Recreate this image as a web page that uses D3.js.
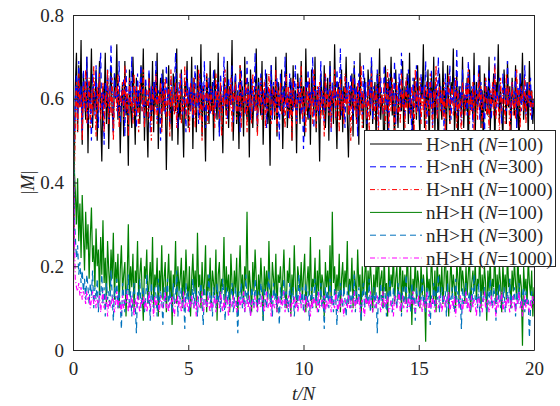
<!DOCTYPE html>
<html>
<head>
<meta charset="utf-8">
<script src="https://cdn.jsdelivr.net/npm/d3@7"></script>
<style>
  body { margin: 0; background: #fff; }
  text { font-family: "Liberation Serif", "Times New Roman", serif; fill: #262626; }
</style>
</head>
<body>
<svg id="chart" width="560" height="406"></svg>
<script>
// |M| readings, one value every 0.05 t/N from 0 to 20
const hnh100 = [
  .02,.41,.63,.71,.52,.68,.58,.74,.49,.66,.61,.55,.70,.47,.64,.59,.72,.53,.62,.57,
  .67,.50,.60,.69,.56,.45,.63,.58,.71,.54,.65,.48,.61,.68,.57,.52,.66,.60,.73,.55,
  .62,.47,.59,.64,.51,.69,.56,.61,.44,.67,.58,.53,.70,.60,.49,.65,.57,.62,.54,.68,
  .59,.72,.50,.63,.56,.46,.66,.61,.55,.69,.52,.64,.58,.71,.48,.60,.65,.53,.67,.57,
  .62,.43,.59,.68,.54,.61,.50,.66,.63,.57,.72,.49,.60,.55,.67,.58,.46,.64,.61,.69,
  .53,.62,.57,.70,.48,.65,.59,.52,.68,.60,.56,.73,.51,.63,.58,.45,.66,.61,.54,.69,
  .57,.64,.50,.67,.60,.55,.71,.52,.62,.58,.47,.65,.61,.56,.69,.53,.63,.59,.74,.50,
  .60,.66,.54,.62,.48,.68,.57,.63,.51,.70,.59,.55,.64,.46,.67,.60,.53,.61,.58,.72,
  .52,.65,.59,.56,.69,.49,.62,.58,.66,.54,.61,.44,.68,.57,.63,.55,.70,.51,.64,.60,
  .57,.67,.48,.63,.59,.71,.53,.61,.56,.65,.50,.68,.58,.62,.47,.66,.60,.54,.69,.57,
  .63,.51,.72,.58,.55,.64,.49,.67,.60,.57,.70,.52,.62,.59,.45,.66,.61,.56,.68,.53,
  .60,.65,.50,.69,.57,.62,.54,.73,.58,.48,.64,.61,.55,.67,.52,.63,.59,.70,.56,.46,
  .62,.58,.66,.51,.68,.60,.55,.63,.49,.71,.57,.61,.53,.65,.59,.47,.67,.62,.56,.69,
  .54,.60,.64,.50,.66,.58,.72,.55,.61,.57,.44,.68,.63,.52,.65,.59,.70,.56,.62,.48,
  .67,.59,.53,.64,.61,.57,.69,.50,.63,.58,.66,.54,.71,.56,.60,.47,.65,.62,.55,.68,
  .58,.51,.64,.60,.73,.53,.62,.57,.67,.49,.61,.65,.56,.70,.52,.63,.59,.46,.66,.60,
  .55,.69,.57,.62,.50,.68,.59,.54,.64,.61,.72,.52,.58,.66,.48,.63,.60,.56,.70,.53,
  .61,.57,.65,.45,.67,.59,.62,.55,.71,.51,.64,.58,.60,.68,.53,.62,.49,.66,.57,.63,
  .56,.70,.52,.61,.59,.66,.48,.64,.60,.73,.55,.62,.57,.50,.67,.61,.54,.69,.58,.63,
  .51,.65,.60,.56,.68,.53,.62,.47,.66,.59,.71,.55,.61,.57,.64,.50,.69,.58,.62,.54,
  .60
];
const hnh300 = [
  .02,.47,.60,.66,.55,.69,.58,.63,.52,.67,.61,.57,.70,.54,.64,.59,.50,.66,.62,.56,
  .68,.60,.53,.65,.71,.57,.62,.49,.64,.59,.67,.55,.61,.73,.58,.52,.66,.60,.63,.56,
  .69,.54,.62,.58,.65,.51,.67,.60,.56,.64,.59,.70,.55,.61,.63,.53,.66,.58,.62,.68,
  .57,.60,.54,.65,.61,.59,.67,.52,.63,.57,.64,.60,.69,.55,.62,.58,.50,.66,.61,.64,
  .56,.68,.59,.62,.54,.65,.60,.57,.63,.71,.58,.53,.64,.61,.66,.56,.60,.62,.52,.67,
  .59,.63,.57,.65,.55,.61,.68,.58,.62,.54,.66,.60,.64,.57,.69,.53,.61,.59,.65,.56,
  .63,.60,.67,.55,.62,.58,.64,.51,.66,.61,.57,.70,.59,.63,.55,.65,.60,.58,.68,.54,
  .62,.66,.57,.61,.64,.52,.67,.60,.59,.63,.56,.69,.58,.62,.55,.65,.61,.57,.71,.59,
  .54,.64,.60,.66,.56,.62,.58,.67,.53,.63,.61,.59,.68,.55,.64,.60,.57,.65,.62,.50,
  .66,.59,.63,.56,.70,.58,.61,.55,.66,.60,.64,.57,.62,.68,.54,.63,.59,.65,.56,.61,
  .48,.58,.64,.61,.67,.55,.62,.59,.70,.53,.65,.60,.57,.63,.56,.69,.58,.61,.54,.66,
  .60,.62,.57,.68,.52,.64,.59,.63,.55,.67,.61,.58,.72,.56,.62,.60,.53,.65,.59,.64,
  .57,.66,.61,.55,.69,.58,.63,.51,.66,.60,.62,.56,.68,.59,.64,.54,.61,.65,.57,.70,
  .55,.63,.60,.58,.67,.53,.62,.65,.59,.56,.68,.61,.57,.64,.52,.66,.60,.63,.58,.69,
  .54,.62,.59,.66,.57,.71,.58,.60,.55,.64,.61,.67,.56,.63,.49,.65,.60,.58,.68,.57,
  .62,.55,.66,.60,.63,.57,.69,.54,.61,.64,.58,.67,.53,.62,.60,.65,.56,.70,.59,.63,
  .57,.61,.52,.66,.60,.64,.58,.68,.55,.62,.59,.65,.57,.72,.56,.61,.63,.54,.67,.60,
  .58,.64,.56,.69,.61,.57,.63,.53,.66,.60,.62,.58,.68,.55,.64,.59,.61,.50,.65,.62,
  .57,.67,.60,.55,.63,.59,.70,.56,.62,.58,.65,.61,.54,.66,.60,.63,.57,.69,.59,.62,
  .55,.64,.61,.58,.67,.53,.63,.60,.66,.57,.62,.59,.68,.56,.64,.61,.58,.65,.55,.60,
  .58
];
const hnh1000 = [
  .03,.38,.55,.64,.52,.66,.58,.61,.50,.63,.57,.67,.54,.60,.65,.53,.62,.56,.68,.59,
  .51,.63,.57,.66,.55,.60,.64,.52,.61,.58,.67,.54,.62,.56,.65,.50,.60,.63,.57,.66,
  .53,.61,.59,.64,.55,.68,.57,.62,.51,.65,.58,.60,.54,.66,.56,.63,.59,.52,.64,.61,
  .57,.67,.53,.60,.62,.55,.65,.58,.50,.63,.60,.56,.66,.54,.61,.59,.64,.52,.62,.57,
  .65,.55,.60,.63,.51,.67,.58,.61,.56,.64,.53,.62,.59,.66,.54,.60,.57,.68,.55,.62,
  .58,.52,.64,.60,.56,.65,.53,.61,.59,.67,.55,.62,.50,.63,.58,.60,.66,.54,.61,.57,
  .63,.56,.60,.53,.66,.59,.62,.55,.64,.51,.61,.58,.67,.54,.60,.63,.57,.65,.52,.62,
  .59,.64,.55,.61,.57,.68,.53,.62,.60,.56,.65,.52,.63,.58,.61,.54,.66,.59,.57,.63,
  .51,.62,.58,.65,.55,.60,.64,.53,.61,.57,.66,.59,.54,.63,.60,.56,.67,.52,.62,.58,
  .64,.56,.61,.59,.53,.66,.57,.63,.55,.62,.50,.65,.58,.60,.54,.64,.61,.57,.68,.55,
  .60,.63,.52,.62,.58,.65,.56,.61,.54,.67,.59,.53,.63,.57,.64,.55,.60,.62,.51,.66,
  .58,.61,.56,.64,.53,.62,.59,.67,.55,.60,.63,.52,.65,.57,.61,.54,.66,.58,.62,.56,
  .63,.50,.60,.65,.57,.61,.54,.64,.59,.56,.68,.53,.62,.58,.60,.55,.64,.52,.61,.66,
  .57,.62,.55,.63,.59,.52,.66,.58,.61,.56,.64,.54,.60,.67,.53,.62,.57,.65,.59,.51,
  .61,.64,.56,.60,.54,.66,.58,.62,.53,.65,.57,.61,.59,.55,.63,.60,.52,.67,.56,.62,
  .58,.65,.54,.61,.57,.63,.51,.64,.60,.56,.66,.59,.53,.62,.58,.68,.55,.60,.63,.57,
  .62,.55,.64,.52,.60,.58,.66,.54,.61,.63,.56,.59,.65,.53,.62,.57,.60,.50,.64,.61,
  .56,.63,.59,.67,.54,.61,.57,.64,.52,.62,.60,.55,.66,.58,.63,.53,.61,.59,.65,.56,
  .60,.53,.62,.58,.64,.56,.68,.55,.61,.59,.52,.65,.57,.62,.60,.54,.66,.58,.63,.51,
  .59,.64,.56,.61,.55,.67,.58,.62,.53,.63,.60,.57,.65,.54,.61,.59,.64,.56,.62,.58,
  .60
];
const nhh100 = [
  .60,.44,.38,.30,.41,.26,.35,.22,.37,.28,.19,.33,.24,.30,.17,.27,.34,.21,.25,.15,
  .29,.20,.24,.13,.27,.18,.31,.16,.22,.11,.26,.19,.14,.24,.17,.28,.12,.21,.16,.23,
  .10,.19,.25,.14,.18,.21,.08,.17,.30,.13,.20,.15,.23,.09,.19,.16,.26,.12,.18,.22,
  .14,.07,.20,.17,.24,.11,.16,.21,.13,.27,.10,.18,.15,.22,.08,.19,.14,.25,.12,.17,
  .21,.09,.16,.23,.13,.19,.06,.18,.15,.26,.11,.20,.14,.17,.22,.10,.19,.13,.24,.16,
  .12,.20,.08,.17,.23,.14,.19,.11,.28,.15,.18,.10,.21,.13,.16,.25,.09,.18,.14,.22,
  .11,.19,.16,.13,.24,.07,.18,.21,.12,.17,.15,.27,.10,.20,.14,.18,.09,.23,.16,.12,
  .19,.14,.22,.08,.17,.25,.13,.18,.11,.20,.16,.33,.12,.19,.15,.09,.21,.14,.24,.17,
  .10,.18,.13,.22,.16,.07,.20,.14,.19,.12,.26,.15,.11,.21,.17,.13,.23,.09,.18,.16,
  .20,.12,.17,.24,.14,.10,.19,.16,.22,.08,.18,.13,.25,.15,.11,.20,.17,.14,.21,.12,
  .18,.23,.09,.16,.20,.13,.27,.11,.17,.15,.22,.10,.19,.14,.24,.12,.18,.16,.08,.21,
  .15,.19,.13,.25,.11,.33,.16,.20,.12,.18,.14,.23,.09,.17,.21,.13,.19,.15,.26,.11,
  .17,.14,.22,.10,.19,.16,.12,.24,.15,.18,.07,.20,.13,.17,.23,.11,.19,.14,.21,.16,
  .09,.18,.13,.20,.15,.26,.12,.17,.19,.10,.22,.14,.16,.08,.21,.13,.18,.15,.24,.11,
  .17,.20,.12,.16,.23,.09,.19,.14,.18,.11,.25,.15,.13,.20,.06,.17,.14,.22,.12,.19,
  .16,.10,.21,.13,.18,.15,.02,.20,.14,.17,.11,.24,.16,.12,.19,.09,.22,.15,.18,.13,
  .20,.11,.17,.25,.14,.19,.08,.16,.22,.13,.18,.15,.10,.21,.17,.12,.26,.14,.19,.16,
  .11,.20,.13,.18,.23,.09,.16,.19,.14,.21,.12,.17,.15,.24,.10,.18,.13,.20,.16,.07,
  .19,.14,.22,.12,.17,.15,.25,.11,.18,.13,.20,.16,.09,.21,.14,.18,.12,.23,.15,.17,
  .10,.19,.14,.21,.16,.12,.24,.13,.18,.15,.01,.20,.14,.17,.11,.22,.16,.13,.19,.08,
  .15
];
const nhh300 = [
  .60,.33,.27,.22,.25,.18,.21,.16,.19,.14,.17,.12,.18,.15,.11,.16,.13,.19,.10,.15,
  .12,.17,.09,.14,.13,.18,.11,.15,.08,.16,.12,.14,.10,.19,.13,.07,.15,.12,.17,.10,
  .14,.11,.05,.16,.13,.09,.15,.12,.18,.10,.14,.08,.13,.16,.11,.04,.14,.12,.17,.10,
  .13,.15,.09,.12,.18,.11,.14,.07,.16,.12,.10,.15,.13,.08,.17,.11,.14,.12,.06,.15,
  .11,.13,.17,.10,.14,.12,.09,.16,.11,.13,.19,.08,.14,.12,.15,.10,.13,.05,.16,.12,
  .14,.09,.13,.11,.17,.10,.15,.12,.08,.14,.13,.16,.11,.06,.15,.12,.10,.14,.18,.11,
  .13,.08,.15,.12,.10,.16,.11,.14,.09,.13,.17,.12,.07,.15,.11,.14,.10,.13,.16,.09,
  .12,.15,.11,.04,.14,.12,.16,.10,.13,.09,.18,.11,.14,.12,.08,.15,.13,.10,.17,.12,
  .09,.14,.11,.16,.13,.07,.15,.12,.10,.14,.19,.11,.13,.08,.16,.12,.14,.10,.13,.06,
  .15,.11,.13,.17,.10,.14,.12,.09,.16,.11,.13,.15,.08,.12,.14,.10,.18,.12,.11,.15,
  .09,.13,.16,.11,.14,.07,.12,.15,.10,.13,.17,.11,.14,.09,.12,.16,.10,.13,.05,.15,
  .12,.14,.10,.17,.11,.13,.09,.15,.12,.06,.14,.11,.16,.13,.10,.15,.12,.08,.14,.11,
  .16,.10,.13,.12,.18,.09,.14,.11,.15,.12,.07,.13,.16,.10,.14,.12,.11,.17,.09,.13,
  .12,.15,.10,.14,.04,.13,.11,.16,.12,.10,.15,.13,.08,.14,.12,.17,.11,.09,.15,.12,
  .13,.10,.16,.12,.14,.08,.15,.11,.13,.18,.10,.12,.14,.09,.16,.11,.13,.07,.15,.12,
  .10,.14,.12,.17,.11,.13,.09,.15,.12,.14,.06,.13,.11,.16,.10,.14,.12,.18,.09,.13,
  .15,.11,.12,.14,.08,.16,.10,.13,.12,.15,.11,.09,.17,.12,.14,.10,.13,.05,.15,.11,
  .13,.16,.10,.12,.14,.09,.15,.11,.18,.12,.13,.10,.16,.08,.14,.12,.11,.15,.13,.09,
  .14,.11,.17,.12,.10,.15,.13,.07,.14,.12,.16,.10,.13,.11,.15,.09,.12,.14,.11,.17,
  .10,.13,.12,.15,.08,.14,.11,.16,.12,.10,.13,.15,.09,.14,.11,.12,.03,.10,.14,.12,
  .11
];
const nhh1000 = [
  .60,.30,.17,.15,.14,.16,.13,.15,.12,.14,.13,.11,.14,.12,.13,.10,.12,.14,.11,.13,
  .10,.12,.11,.13,.09,.12,.14,.10,.11,.13,.08,.12,.11,.10,.13,.12,.09,.11,.14,.10,
  .12,.11,.09,.13,.10,.12,.11,.14,.09,.12,.10,.13,.11,.08,.12,.10,.13,.11,.09,.12,
  .11,.13,.10,.12,.09,.11,.14,.10,.12,.11,.08,.13,.10,.12,.11,.09,.13,.11,.10,.12,
  .14,.10,.11,.09,.12,.11,.13,.10,.08,.12,.11,.13,.10,.12,.09,.11,.14,.10,.12,.11,
  .09,.12,.10,.13,.11,.10,.12,.08,.13,.11,.10,.12,.14,.09,.11,.12,.10,.13,.11,.09,
  .12,.10,.11,.13,.09,.12,.11,.10,.14,.11,.09,.12,.10,.13,.11,.08,.12,.10,.11,.13,
  .10,.12,.09,.11,.13,.10,.12,.11,.14,.09,.11,.12,.10,.13,.08,.11,.12,.10,.13,.11,
  .09,.12,.11,.10,.13,.11,.09,.12,.14,.10,.11,.12,.08,.13,.11,.10,.12,.09,.13,.11,
  .12,.10,.11,.14,.09,.12,.10,.13,.11,.08,.12,.11,.13,.10,.12,.09,.11,.14,.10,.12,
  .11,.09,.13,.10,.12,.11,.08,.12,.10,.13,.11,.12,.09,.14,.10,.11,.12,.10,.13,.09,
  .12,.10,.11,.13,.09,.12,.11,.10,.14,.11,.09,.12,.10,.13,.11,.08,.12,.11,.10,.13,
  .10,.12,.09,.11,.14,.10,.12,.11,.13,.09,.11,.12,.10,.08,.13,.11,.12,.10,.14,.11,
  .09,.12,.11,.10,.13,.11,.12,.09,.11,.14,.10,.12,.11,.13,.09,.10,.12,.11,.08,.13,
  .11,.10,.12,.14,.09,.11,.13,.10,.12,.11,.09,.13,.10,.12,.11,.14,.10,.09,.12,.11,
  .13,.10,.12,.09,.11,.12,.10,.14,.11,.08,.12,.10,.13,.11,.09,.12,.11,.10,.13,.12,
  .09,.11,.13,.10,.12,.11,.14,.09,.11,.12,.10,.13,.08,.12,.11,.10,.13,.11,.09,.12,
  .11,.14,.10,.12,.09,.11,.13,.10,.12,.11,.08,.12,.13,.10,.11,.09,.12,.14,.10,.11,
  .12,.09,.11,.13,.10,.12,.11,.08,.13,.10,.12,.11,.14,.09,.11,.12,.10,.13,.11,.09,
  .12,.10,.13,.11,.09,.12,.11,.14,.10,.12,.08,.11,.13,.10,.12,.11,.09,.12,.10,.13,
  .11
];

const xTicks = [0, 5, 10, 15, 20];
const yTicks = [0, 0.2, 0.4, 0.6, 0.8];

const series = [
  { name: "H>nH", n: "100", values: hnh100, color: "#000000", dash: null },
  { name: "H>nH", n: "300", values: hnh300, color: "#0000ff", dash: "6,4" },
  { name: "H>nH", n: "1000", values: hnh1000, color: "#ff0000", dash: "5,2.5,1,2.5" },
  { name: "nH>H", n: "100", values: nhh100, color: "#008000", dash: null },
  { name: "nH>H", n: "300", values: nhh300, color: "#0072bd", dash: "6,4" },
  { name: "nH>H", n: "1000", values: nhh1000, color: "#ff00ff", dash: "5,2.5,1,2.5" }
];

const plotLeft = 73, plotRight = 534, plotTop = 15, plotBottom = 350;
const fontSize = 19;
const svg = d3.select("#chart");

const x = d3.scaleLinear().domain([0, 20]).range([plotLeft, plotRight]);
const y = d3.scaleLinear().domain([0, 0.8]).range([plotBottom, plotTop]);

const line = d3.line()
  .x((d) => x(d[0]))
  .y((d) => y(d[1]));

svg.append("defs").append("clipPath").attr("id", "clip")
  .append("rect")
  .attr("x", plotLeft).attr("y", plotTop)
  .attr("width", plotRight - plotLeft).attr("height", plotBottom - plotTop);

const plot = svg.append("g").attr("clip-path", "url(#clip)");

series.forEach((s) => {
  const pts = s.values.map((v, i) => [i * 20 / (s.values.length - 1), v]);
  plot.append("path")
    .datum(pts)
    .attr("fill", "none")
    .attr("stroke", s.color)
    .attr("stroke-width", 1.2)
    .attr("stroke-dasharray", s.dash)
    .attr("d", line);
});

// axes in a box, ticks pointing inward
const axisStyle = (g) => {
  g.attr("font-family", null).attr("font-size", null);
  g.select(".domain").attr("stroke", "#262626");
  g.selectAll(".tick line").attr("stroke", "#262626");
  g.selectAll(".tick text")
    .attr("font-size", fontSize)
    .attr("fill", "#262626");
};

svg.append("g")
  .attr("transform", `translate(0,${plotBottom})`)
  .call(d3.axisBottom(x).tickValues(xTicks).tickFormat(d3.format("d"))
    .tickSizeInner(-5).tickSizeOuter(0).tickPadding(12))
  .call(axisStyle);

svg.append("g")
  .attr("transform", `translate(0,${plotTop})`)
  .call(d3.axisTop(x).tickValues(xTicks).tickFormat("")
    .tickSizeInner(-5).tickSizeOuter(0))
  .call(axisStyle);

svg.append("g")
  .attr("transform", `translate(${plotLeft},0)`)
  .call(d3.axisLeft(y).tickValues(yTicks).tickFormat((d) => (d === 0 ? "0" : d3.format(".1f")(d)))
    .tickSizeInner(-5).tickSizeOuter(0).tickPadding(9))
  .call(axisStyle);

svg.append("g")
  .attr("transform", `translate(${plotRight},0)`)
  .call(d3.axisRight(y).tickValues(yTicks).tickFormat("")
    .tickSizeInner(-5).tickSizeOuter(0))
  .call(axisStyle);

// axis labels
svg.append("text")
  .attr("x", (plotLeft + plotRight) / 2)
  .attr("y", 400)
  .attr("text-anchor", "middle")
  .attr("font-size", fontSize)
  .attr("font-style", "italic")
  .text("t/N");

svg.append("text")
  .attr("transform", `translate(34,${(plotTop + plotBottom) / 2}) rotate(-90)`)
  .attr("text-anchor", "middle")
  .attr("font-size", fontSize)
  .html('|<tspan font-style="italic">M</tspan>|');

// legend
const legend = svg.append("g");
legend.append("rect")
  .attr("x", 364.5).attr("y", 130.5)
  .attr("width", 191).attr("height", 136)
  .attr("fill", "#fff")
  .attr("stroke", "#262626")
  .attr("stroke-width", 1);

series.forEach((s, i) => {
  const ly = 144 + i * 22.8;
  legend.append("line")
    .attr("x1", 370).attr("x2", 422)
    .attr("y1", ly).attr("y2", ly)
    .attr("stroke", s.color)
    .attr("stroke-width", 1)
    .attr("stroke-dasharray", s.dash);
  const t = legend.append("text")
    .attr("x", 426)
    .attr("y", ly + 6.5)
    .attr("font-size", fontSize);
  t.append("tspan").text(`${s.name} (`);
  t.append("tspan").attr("font-style", "italic").text("N");
  t.append("tspan").text(`=${s.n})`);
});
</script>
</body>
</html>
